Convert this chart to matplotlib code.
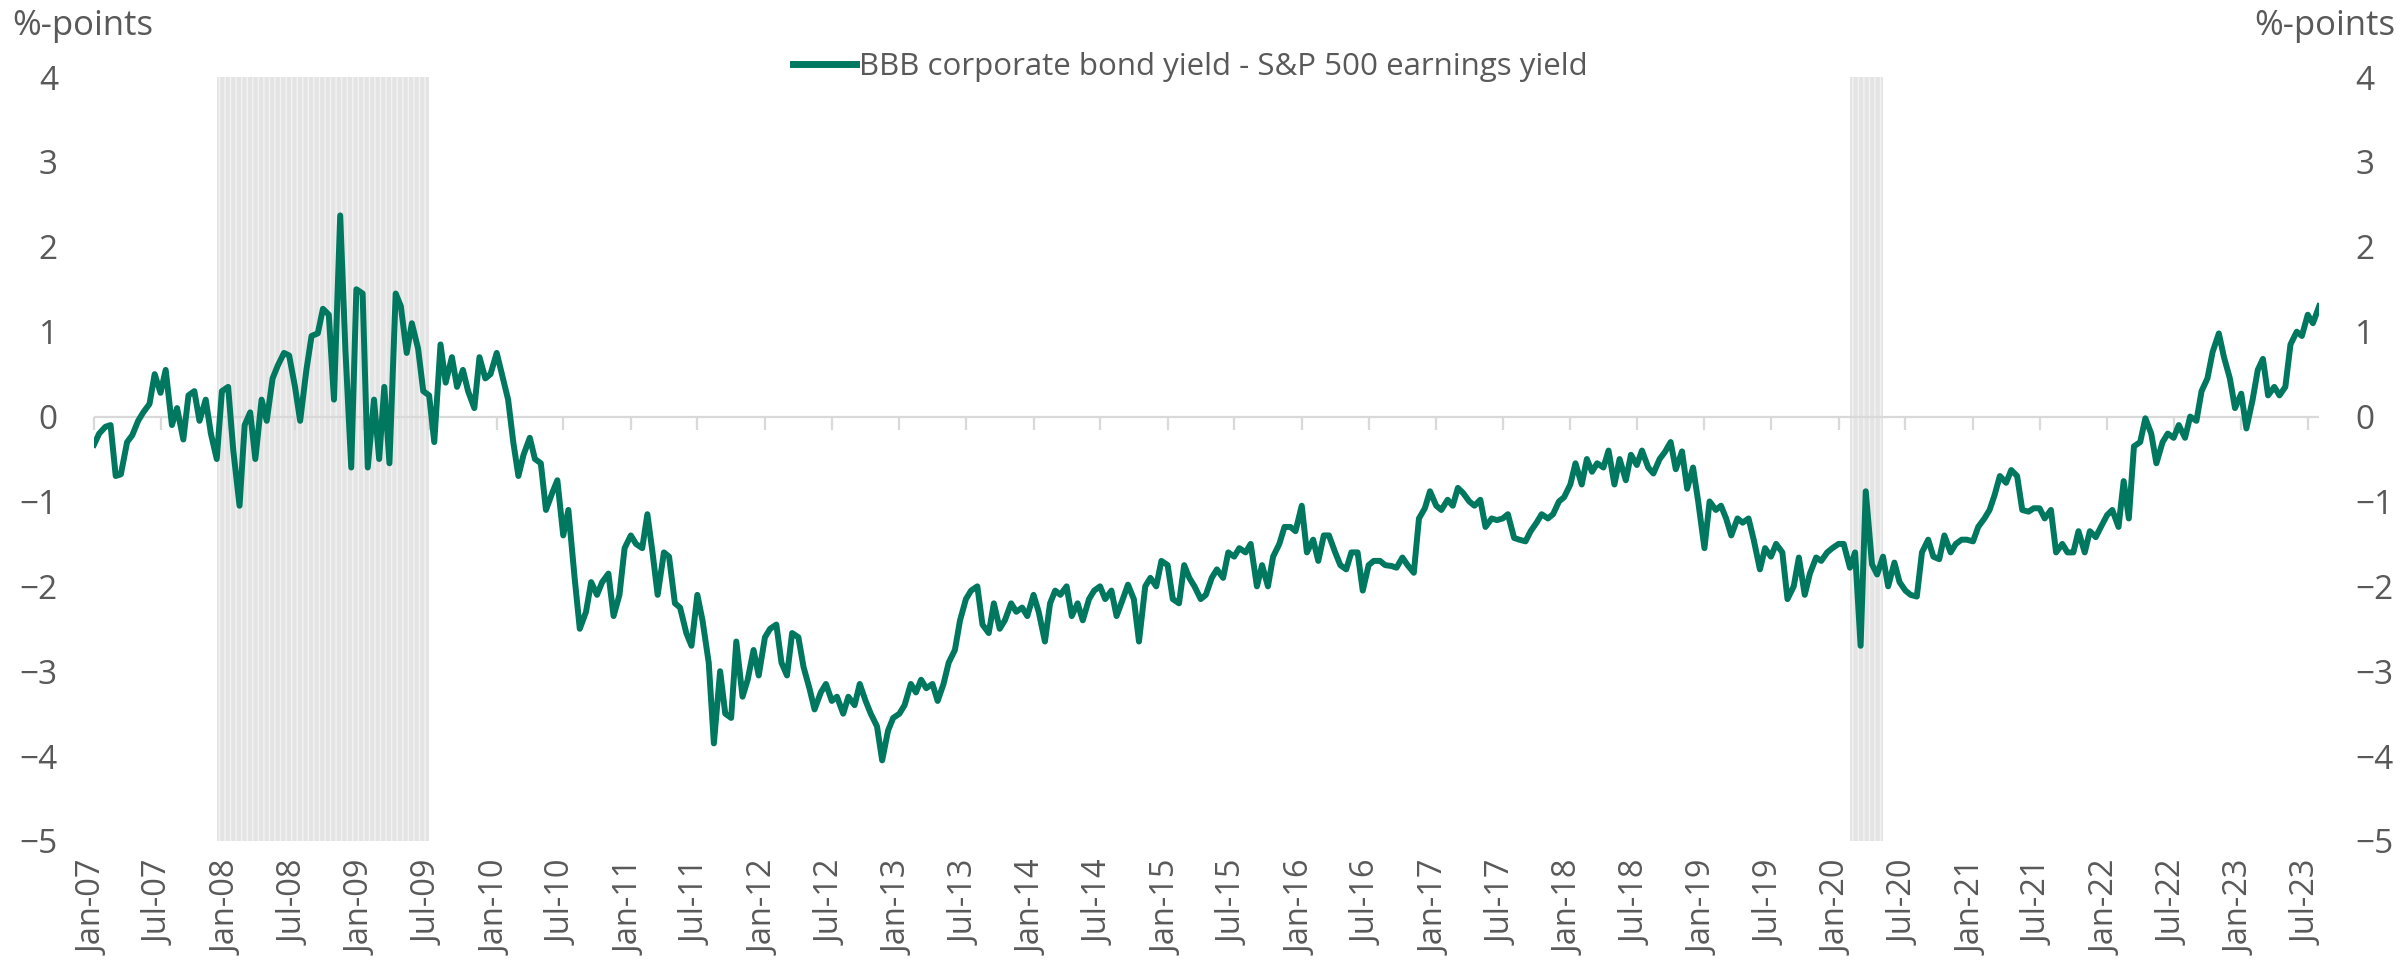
import numpy as np
import pandas as pd
import matplotlib
matplotlib.use("Agg")
import matplotlib.pyplot as plt
import matplotlib.dates as mdates

plt.rcParams['font.family'] = ['Open Sans', 'DejaVu Sans']

# BBB corporate bond yield minus S&P 500 earnings yield, %-points,
# read off the chart on a semi-monthly grid (1st and 15th of each month)
y2007 = [-0.33, -0.2, -0.12, -0.1, -0.7, -0.68, -0.3, -0.22, -0.05, 0.05, 0.15, 0.5,
         0.28, 0.55, -0.1, 0.1, -0.27, 0.25, 0.3, -0.05, 0.2, -0.2, -0.5, 0.3]
y2008 = [0.35, -0.4, -1.05, -0.1, 0.05, -0.5, 0.2, -0.05, 0.45, 0.6, 0.75, 0.72,
         0.35, -0.05, 0.55, 0.95, 0.98, 1.27, 1.2, 0.2, 2.37, 0.8, -0.6, 1.5]
y2009 = [1.45, -0.6, 0.2, -0.5, 0.35, -0.55, 1.45, 1.3, 0.75, 1.1, 0.8, 0.3,
         0.25, -0.3, 0.85, 0.4, 0.7, 0.35, 0.55, 0.3, 0.1, 0.7, 0.45, 0.5]
y2010 = [0.75, 0.5, 0.2, -0.3, -0.7, -0.45, -0.25, -0.5, -0.55, -1.1, -0.9, -0.75,
         -1.4, -1.1, -1.9, -2.5, -2.3, -1.95, -2.1, -1.95, -1.85, -2.35, -2.1, -1.55]
y2011 = [-1.4, -1.5, -1.55, -1.15, -1.6, -2.1, -1.6, -1.65, -2.2, -2.25, -2.55, -2.7,
         -2.1, -2.4, -2.9, -3.85, -3.0, -3.5, -3.55, -2.65, -3.3, -3.1, -2.75, -3.05]
y2012 = [-2.6, -2.5, -2.45, -2.9, -3.05, -2.55, -2.6, -2.95, -3.2, -3.45, -3.25, -3.15,
         -3.35, -3.3, -3.5, -3.3, -3.4, -3.15, -3.35, -3.5, -3.65, -4.05, -3.7, -3.55]
y2013 = [-3.5, -3.4, -3.15, -3.25, -3.1, -3.2, -3.15, -3.35, -3.15, -2.9, -2.75, -2.4,
         -2.15, -2.05, -2.0, -2.45, -2.55, -2.2, -2.5, -2.4, -2.2, -2.3, -2.25, -2.35]
y2014 = [-2.1, -2.3, -2.65, -2.2, -2.05, -2.1, -2.0, -2.35, -2.2, -2.4, -2.15, -2.05,
         -2.0, -2.15, -2.05, -2.35, -2.15, -1.98, -2.15, -2.65, -2.0, -1.9, -2.0, -1.7]
y2015 = [-1.75, -2.15, -2.2, -1.75, -1.9, -2.0, -2.15, -2.1, -1.9, -1.8, -1.9, -1.6,
         -1.65, -1.55, -1.6, -1.5, -2.0, -1.75, -2.0, -1.65, -1.5, -1.3, -1.3, -1.35]
y2016 = [-1.05, -1.6, -1.45, -1.7, -1.4, -1.4, -1.6, -1.75, -1.8, -1.6, -1.6, -2.05,
         -1.75, -1.7, -1.7, -1.75, -1.76, -1.78, -1.66, -1.75, -1.84, -1.2, -1.08, -0.88]
y2017 = [-1.05, -1.1, -0.98, -1.05, -0.84, -0.9, -1.0, -1.05, -0.98, -1.3, -1.2, -1.22,
         -1.2, -1.15, -1.43, -1.45, -1.47, -1.35, -1.25, -1.15, -1.2, -1.15, -1.0, -0.95]
y2018 = [-0.8, -0.55, -0.8, -0.5, -0.65, -0.55, -0.6, -0.4, -0.8, -0.5, -0.75, -0.45,
         -0.57, -0.4, -0.6, -0.67, -0.5, -0.42, -0.3, -0.62, -0.41, -0.85, -0.6, -1.0]
y2019 = [-1.55, -1.0, -1.1, -1.05, -1.2, -1.4, -1.2, -1.25, -1.2, -1.45, -1.8, -1.55,
         -1.65, -1.5, -1.6, -2.15, -2.0, -1.66, -2.1, -1.85, -1.66, -1.7, -1.6, -1.55]
y2020 = [-1.5, -1.5, -1.78, -1.6, -2.7, -0.88, -1.74, -1.86, -1.65, -2.0, -1.72, -1.95,
         -2.05, -2.1, -2.12, -1.6, -1.45, -1.65, -1.68, -1.4, -1.6, -1.5, -1.45, -1.45]
y2021 = [-1.47, -1.3, -1.2, -1.1, -0.92, -0.7, -0.78, -0.63, -0.7, -1.1, -1.12, -1.08,
         -1.08, -1.2, -1.1, -1.6, -1.5, -1.6, -1.6, -1.35, -1.6, -1.35, -1.42, -1.3]
y2022 = [-1.16, -1.1, -1.3, -0.76, -1.2, -0.35, -0.3, -0.02, -0.2, -0.55, -0.3, -0.2,
         -0.25, -0.1, -0.25, 0.0, -0.05, 0.3, 0.45, 0.76, 0.98, 0.7, 0.45, 0.1]
y2023 = [0.27, -0.14, 0.2, 0.55, 0.68, 0.25, 0.35, 0.25, 0.35, 0.85, 1.0, 0.95,
         1.2, 1.1, 1.3]

# US recessions (shaded)
rec_start = ['2007-12-01', '2020-02-01']
rec_end = ['2009-06-30', '2020-05-01']

series_name = 'BBB corporate bond yield - S&P 500 earnings yield'
y_ticks = [4, 3, 2, 1, 0, -1, -2, -3, -4, -5]

values = np.concatenate([y2007, y2008, y2009, y2010, y2011, y2012, y2013, y2014,
                         y2015, y2016, y2017, y2018, y2019, y2020, y2021, y2022, y2023])
dates = pd.date_range('2007-01-01', periods=len(values), freq='SMS')
tick_dates = pd.date_range('2007-01-01', '2023-07-01', freq='6MS')

green = '#00785F'
grey_txt = '#595959'
grey_line = '#D9D9D9'

fig = plt.figure(figsize=(24.05, 9.67), dpi=100)
ax = fig.add_axes([0.0391, 0.1303, 0.9252, 0.7900])

for s, e in zip(rec_start, rec_end):
    ax.axvspan(pd.Timestamp(s), pd.Timestamp(e), facecolor='#E4E4E4',
               edgecolor='#F3F3F3', hatch='|||', lw=0, zorder=0)

ax.axhline(0, color=grey_line, lw=1.6, zorder=1)
ax.plot(dates, values, color=green, lw=4.3, label=series_name, zorder=3,
        solid_joinstyle='round')

ax.set_xlim(dates[0], dates[-1])
ax.set_ylim(-5, 4)
ax.set_yticks(y_ticks)
ax.set_xticks(tick_dates)
ax.xaxis.set_major_formatter(mdates.DateFormatter('%b-%y'))
ax.tick_params(axis='x', length=0, pad=14, labelsize=23.5, labelcolor=grey_txt,
               labelrotation=90)
ax.tick_params(axis='y', length=0, pad=26, labelsize=24, labelcolor=grey_txt)
for sp in ax.spines.values():
    sp.set_visible(False)

# small tick marks hanging from the zero line
sec = ax.secondary_xaxis(5 / 9)
sec.set_xticks(mdates.date2num(tick_dates))
sec.tick_params(direction='in', length=9, width=1.6, color=grey_line,
                labeltop=False, labelbottom=False)
for sp in sec.spines.values():
    sp.set_visible(False)

ax2 = ax.twinx()
ax2.set_ylim(-5, 4)
ax2.set_yticks(y_ticks)
ax2.tick_params(axis='y', length=0, pad=26, labelsize=24, labelcolor=grey_txt)
for sp in ax2.spines.values():
    sp.set_visible(False)

fig.text(0.005, 0.973, '%-points', ha='left', va='center', fontsize=25, color=grey_txt)
fig.text(0.996, 0.973, '%-points', ha='right', va='center', fontsize=25, color=grey_txt)

fig.legend(loc='center', bbox_to_anchor=(0.495, 0.931), frameon=False,
           fontsize=22.5, handlelength=2.0, handletextpad=0.1, labelcolor=grey_txt)
for line in fig.legends[0].get_lines():
    line.set_linewidth(5)

fig.savefig('out.png', dpi=100)
